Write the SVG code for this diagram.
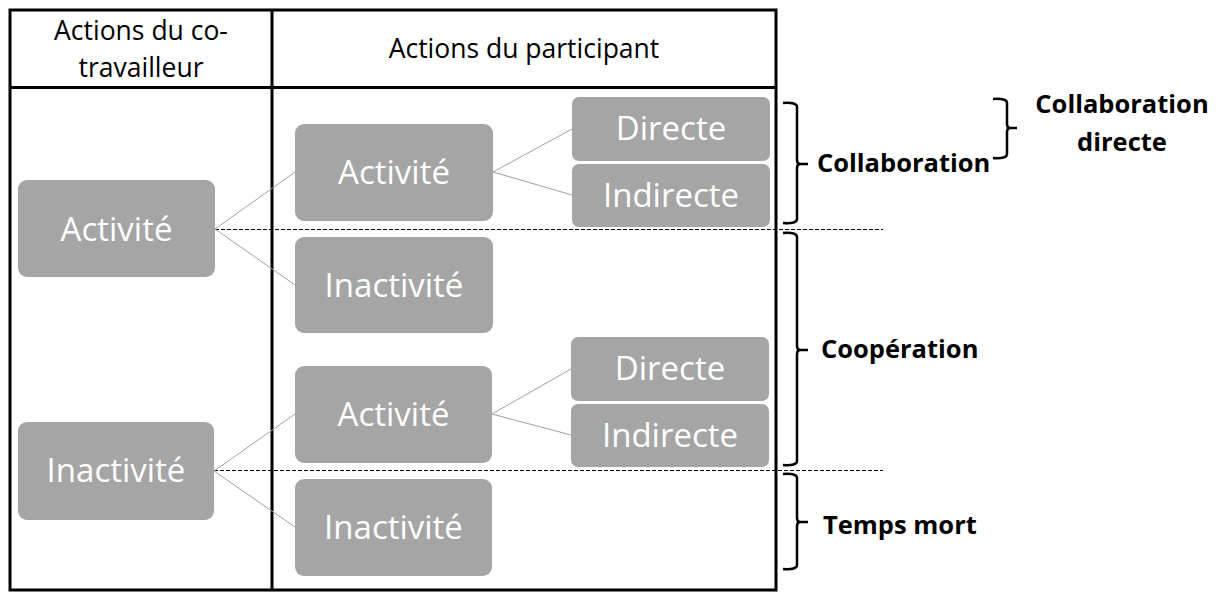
<svg xmlns="http://www.w3.org/2000/svg" width="1217" height="592" viewBox="0 0 1217 592">
<style>
.tbl{fill:none;stroke:#000;stroke-width:3}
.node rect{fill:#a5a5a5}
.node text{fill:#fff;font-family:"Open Sans","Noto Sans","Liberation Sans",sans-serif;font-size:33px;text-anchor:middle}
.hdr{fill:#000;font-family:"Open Sans","Noto Sans","Liberation Sans",sans-serif;font-size:26.5px;text-anchor:middle}
.lbl{fill:#000;font-family:"Open Sans","Noto Sans","Liberation Sans",sans-serif;font-size:25.5px;font-weight:bold}
.conn line{stroke:#a0a0a0;stroke-width:1}
.dash{stroke:#000;stroke-width:1;stroke-dasharray:4 2}
.brace{fill:none;stroke:#000;stroke-width:2.5}
</style>
<rect width="1217" height="592" fill="#fff"/>
<g id="table">
<rect class="tbl" x="10" y="10" width="766" height="580"/>
<line class="tbl" x1="10" y1="87.5" x2="776" y2="87.5"/>
<line class="tbl" x1="272" y1="10" x2="272" y2="590"/>
<text class="hdr" x="141" y="40">Actions du co-</text>
<text class="hdr" x="141" y="77">travailleur</text>
<text class="hdr" x="524" y="58">Actions du participant</text>
</g>
<g id="dividers">
<line class="dash" x1="215" y1="229.5" x2="883" y2="229.5"/>
<line class="dash" x1="214" y1="470.5" x2="883" y2="470.5"/>
</g>
<g id="connectors" class="conn">
<line x1="215" y1="229" x2="295" y2="172"/>
<line x1="215" y1="229" x2="295" y2="285"/>
<line x1="493" y1="172" x2="572" y2="129"/>
<line x1="493" y1="172" x2="572" y2="195"/>
<line x1="214" y1="471" x2="295" y2="414"/>
<line x1="214" y1="471" x2="295" y2="527"/>
<line x1="492" y1="414" x2="571" y2="369"/>
<line x1="492" y1="414" x2="571" y2="435"/>
</g>
<g id="n-left-activite" class="node"><rect x="18" y="180" width="197" height="97" rx="9"/><text x="116.5" y="241">Activité</text></g>
<g id="n-left-inactivite" class="node"><rect x="18" y="422" width="196" height="98" rx="9"/><text x="116" y="482">Inactivité</text></g>
<g id="n-mid-activite-1" class="node"><rect x="295" y="124" width="198" height="97" rx="9"/><text x="394" y="184">Activité</text></g>
<g id="n-mid-inactivite-1" class="node"><rect x="295" y="237" width="198" height="96" rx="9"/><text x="394" y="297">Inactivité</text></g>
<g id="n-mid-activite-2" class="node"><rect x="295" y="366" width="197" height="97" rx="9"/><text x="393.5" y="426">Activité</text></g>
<g id="n-mid-inactivite-2" class="node"><rect x="295" y="479" width="197" height="97" rx="9"/><text x="393.5" y="539">Inactivité</text></g>
<g id="n-directe-1" class="node"><rect x="572" y="97" width="198" height="64" rx="7"/><text x="671" y="140">Directe</text></g>
<g id="n-indirecte-1" class="node"><rect x="572" y="164" width="198" height="63" rx="7"/><text x="671" y="207">Indirecte</text></g>
<g id="n-directe-2" class="node"><rect x="571" y="337" width="198" height="64" rx="7"/><text x="670" y="380">Directe</text></g>
<g id="n-indirecte-2" class="node"><rect x="571" y="404" width="198" height="63" rx="7"/><text x="670" y="447">Indirecte</text></g>
<g id="braces">
<path class="brace" d="M783 103 Q797 102 797 107 L797 160 Q797 164 800 164 L808 164 M800 164 Q797 164 797 168 L797 219 Q797 224 783 223"/>
<path class="brace" d="M783 233 Q797 232 797 237 L797 346 Q797 350 800 350 L808 350 M800 350 Q797 350 797 354 L797 461 Q797 466 783 465"/>
<path class="brace" d="M783 474 Q797 473 797 478 L797 518 Q797 522 800 522 L808 522 M800 522 Q797 522 797 526 L797 565 Q797 570 783 569"/>
<path class="brace" d="M993 99 Q1007 98 1007 103 L1007 124 Q1007 128 1010 128 L1017 128 M1010 128 Q1007 128 1007 132 L1007 154 Q1007 159 993 158"/>
</g>
<g id="labels">
<text class="lbl" x="817" y="172">Collaboration</text>
<text class="lbl" x="821" y="358">Coopération</text>
<text class="lbl" x="823" y="534">Temps mort</text>
<text class="lbl" x="1122" y="113" text-anchor="middle">Collaboration</text>
<text class="lbl" x="1122" y="151" text-anchor="middle">directe</text>
</g>
</svg>
